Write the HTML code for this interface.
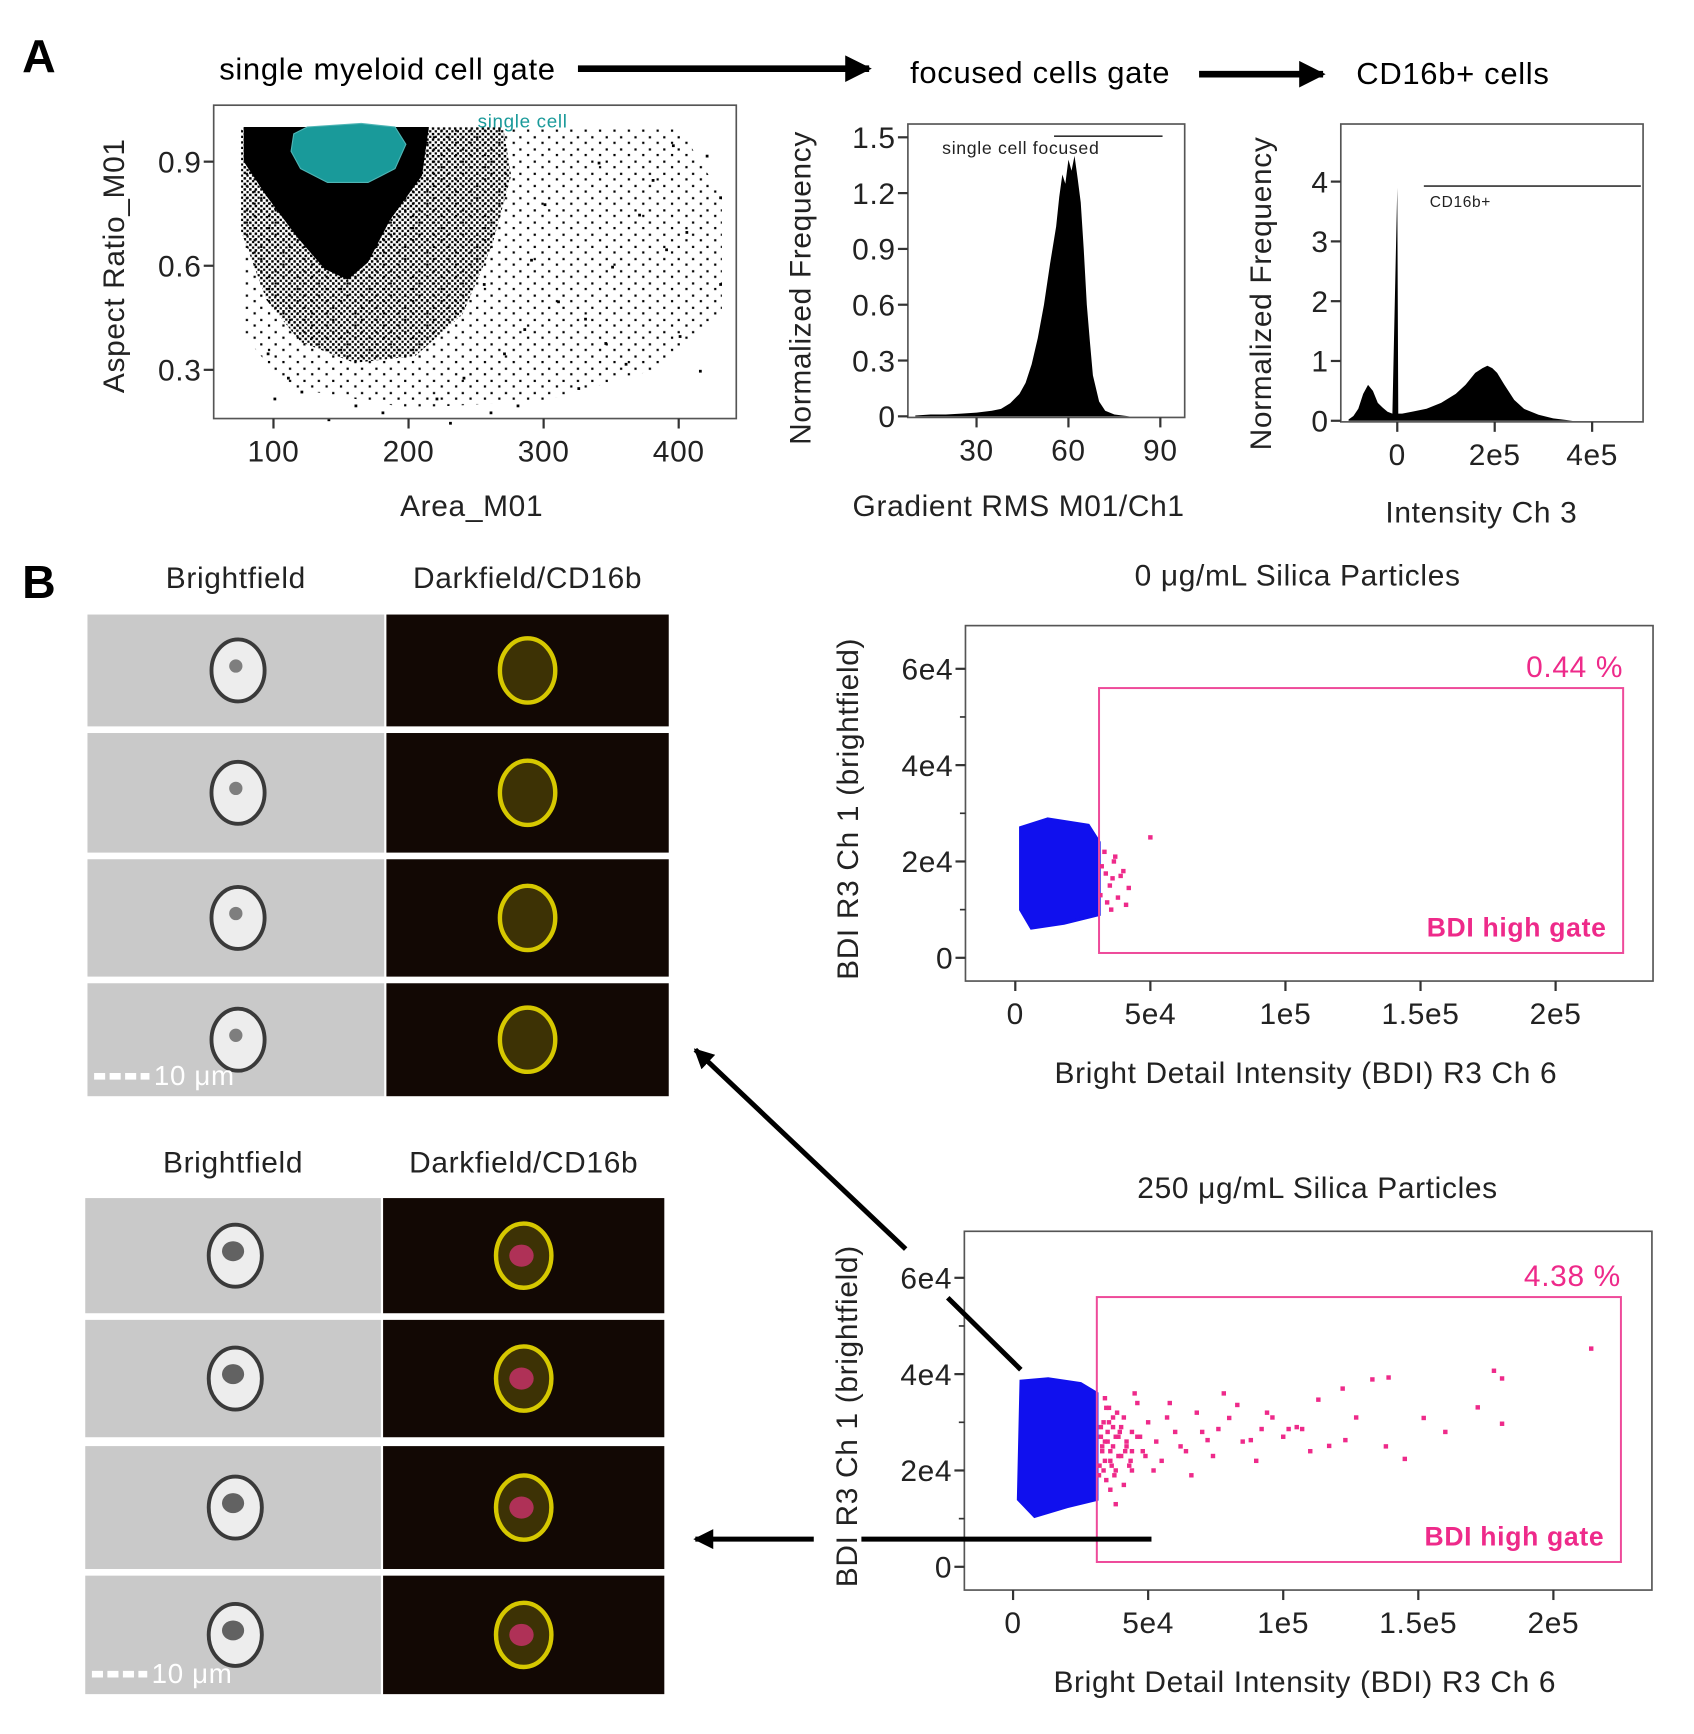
<!DOCTYPE html>
<html><head><meta charset="utf-8"><style>
html,body{margin:0;padding:0;background:#fff;}
svg{display:block;font-family:"Liberation Sans",Arial,sans-serif;}
svg text{letter-spacing:0.6px;}
</style></head><body>
<svg id="fig" width="1694" height="1734" viewBox="0 0 1530 1566" preserveAspectRatio="none" xmlns="http://www.w3.org/2000/svg">
<defs>
<marker id="ah" viewBox="0 0 10 10" refX="9" refY="5" markerWidth="4" markerHeight="4" orient="auto"><path d="M0,0 L10,5 L0,10 z" fill="#000"/></marker>
<pattern id="dotsSparse" width="13" height="11" patternUnits="userSpaceOnUse"><rect x="1" y="2" width="2" height="2" fill="#000"/><rect x="8" y="7" width="2" height="2" fill="#000"/></pattern>
<pattern id="dotsDense" width="5" height="5" patternUnits="userSpaceOnUse"><rect x="0" y="0" width="2.2" height="2.2" fill="#000"/><rect x="2.6" y="2.6" width="2" height="2" fill="#000"/></pattern>
</defs>
<text x="20" y="65" font-size="42" font-weight="bold">A</text>
<text x="20" y="540" font-size="42" font-weight="bold">B</text>
<text x="198" y="72" font-size="28">single myeloid cell gate</text>
<line x1="522" y1="62" x2="785" y2="62" stroke="#000" stroke-width="6" marker-end="url(#ah)"/>
<text x="822" y="75" font-size="28">focused cells gate</text>
<line x1="1083" y1="67" x2="1195" y2="67" stroke="#000" stroke-width="6" marker-end="url(#ah)"/>
<text x="1225" y="76" font-size="28">CD16b+ cells</text>
<g id="charts"></g>
<g id="imgs"></g>
<line x1="922" y1="1237" x2="856" y2="1172" stroke="#000" stroke-width="4.5"/>
<line x1="818" y1="1128" x2="628" y2="948" stroke="#000" stroke-width="4.5" marker-end="url(#ah)"/>
<line x1="1040" y1="1390" x2="778" y2="1390" stroke="#000" stroke-width="4.5"/>
<line x1="735" y1="1390" x2="628" y2="1390" stroke="#000" stroke-width="4.5" marker-end="url(#ah)"/>
</svg>
<script>
// ---------- DATA ----------
const aCoreHull=[[78,1.0],[215,1.0],[210,0.86],[186,0.73],[170,0.61],[155,0.56],[138,0.59],[118,0.68],[95,0.8],[78,0.9]];
const aMidHull=[[76,1.0],[270,1.0],[276,0.86],[262,0.66],[240,0.46],[205,0.34],[160,0.32],[120,0.38],[95,0.5],[76,0.7]];
const aOuterHull=[[76,1.0],[400,1.0],[432,0.8],[432,0.46],[382,0.3],[300,0.21],[200,0.19],[110,0.25],[78,0.4]];
const aSparseX=[420,405,380,350,330,300,280,270,400,430,415,390,360,340,310,290,260,240,230,220,180,160,140,120,110,100,95,430,370,325,285,255,395,345];
const aSparseY=[0.92,0.7,0.85,0.6,0.45,0.78,0.2,0.35,0.4,0.55,0.3,0.65,0.32,0.9,0.5,0.62,0.18,0.28,0.15,0.22,0.18,0.2,0.16,0.24,0.28,0.22,0.35,0.8,0.75,0.25,0.42,0.55,0.95,0.38];
const gateSingleCell=[[115,0.98],[125,1.0],[165,1.01],[190,1.0],[198,0.95],[190,0.88],[170,0.84],[140,0.84],[120,0.88],[113,0.93]];
const h1Bins=[10,15,20,25,30,35,38,41,44,46,48,50,52,54,56,57,58,59,60,61,62,63,64,65,66,67,68,70,72,75,80];
const h1Vals=[0.005,0.01,0.01,0.015,0.02,0.03,0.04,0.07,0.12,0.18,0.28,0.42,0.6,0.82,1.02,1.18,1.3,1.25,1.38,1.32,1.4,1.28,1.15,0.9,0.6,0.4,0.22,0.08,0.03,0.01,0];
const h2Bins=[-1.0,-0.9,-0.8,-0.7,-0.6,-0.5,-0.4,-0.3,-0.2,-0.1,0,0.02,0.1,0.3,0.6,0.9,1.2,1.4,1.6,1.75,1.85,1.95,2.05,2.2,2.4,2.6,2.9,3.2,3.6];
const h2Vals=[0.02,0.08,0.2,0.45,0.6,0.5,0.3,0.22,0.15,0.12,3.9,0.12,0.12,0.15,0.2,0.3,0.45,0.6,0.8,0.88,0.92,0.88,0.8,0.6,0.35,0.2,0.1,0.04,0];
const b1BlueHull=[[2000,27000],[12000,28800],[27000,27500],[31000,24000],[31000,9000],[18000,7200],[6000,6200],[2000,10000]];
const b1PinkX=[32000,33500,35000,36500,38000,40000,42000,34000,36000,41000,50000,33000,37000,39000,31500,35500];
const b1PinkY=[19000,17500,15000,20000,12500,18000,14500,11500,16500,11000,25000,22000,21000,17000,13000,10000];
const b1Gate=[31000,225000,1000,56000];
const b2BlueHull=[[3000,38500],[13000,39000],[25000,38000],[31000,36000],[31000,14000],[20000,12500],[8000,10500],[2000,14000]];
const b2PinkX=[214000,178000,181000,181000,172000,139000,133000,145000,152000,122000,123000,113000,117000,107000,102000,94000,92000,88000,83000,80000,76000,72000,68000,64000,60000,57000,55000,53000,50000,48000,46000,44000,43000,42000,41000,40000,39000,38000,37000,36000,35500,35000,34500,34000,33500,33000,32500,32000,31800,45000,47000,52000,58000,62000,66000,70000,74000,78000,85000,90000,96000,100000,105000,110000,127000,138000,160000,36000,38000,41000,44000,49000,34000,37000,33000,34000,35000,36000,37000,38000,39000,40000,42000,44000,46000,33500,35500,37500,39500,41500,43500,32500,34500,36500,38500];
const b2PinkY=[45300,40700,39100,29700,33100,39300,38900,22400,30900,37000,26300,34700,25100,28600,28600,32000,28600,26300,33600,30900,28600,26300,32000,24000,28000,31000,22000,26000,30000,24000,34000,28000,21000,25000,31000,23000,27000,20000,29000,24000,33000,26000,18000,22000,30000,25000,27000,21000,19000,36000,27000,20000,34000,25000,19000,28000,23000,36000,26000,22000,31000,27000,29000,24000,31000,25000,28000,16000,13000,17000,20000,23000,35000,31000,24000,26000,28000,22000,25000,27000,23000,29000,26000,24000,27000,20000,30000,19000,28000,24000,22000,29000,33000,21000,32000];
const b2Gate=[31000,225000,1000,56000];

// ---------- HELPERS ----------
const NS="http://www.w3.org/2000/svg";
const root=document.getElementById('charts');
function mk(tag,attrs,parent){const e=document.createElementNS(NS,tag);for(const k in attrs)e.setAttribute(k,attrs[k]);(parent||root).appendChild(e);return e;}
function lin(d0,p0,d1,p1){const k=(p1-p0)/(d1-d0);return v=>p0+(v-d0)*k;}
function frame(x0,y0,x1,y1,name){const r=mk('rect',{x:x0,y:y0,width:x1-x0,height:y1-y0,fill:'none',stroke:'#555','stroke-width':1.5});

}
function yTicks(ticks,labels,sy,x0,fs,name,minor){ticks.forEach((t,i)=>{const y=sy(t);
const l=mk('line',{x1:x0-9,y1:y,x2:x0,y2:y,stroke:'#333','stroke-width':2});


const tx=mk('text',{x:x0-11,y:y+fs*0.36,'font-size':fs,'text-anchor':'end',fill:'#222'});tx.textContent=labels[i];

});
(minor||[]).forEach(t=>{const y=sy(t);const l=mk('line',{x1:x0-5,y1:y,x2:x0,y2:y,stroke:'#333','stroke-width':1.5});

});}
function xTicks(ticks,labels,sx,y0,fs,name){ticks.forEach((t,i)=>{const x=sx(t);
const l=mk('line',{x1:x,y1:y0,x2:x,y2:y0+9,stroke:'#333','stroke-width':2});


const tx=mk('text',{x:x,y:y0+fs+12,'font-size':fs,'text-anchor':'middle',fill:'#222'});tx.textContent=labels[i];

});}
function label(x,y,txt,fs,name,rot,extra){const a={x:x,y:y,'font-size':fs,'text-anchor':'middle',fill:'#222'};if(rot)a.transform='rotate(-90 '+x+' '+y+')';Object.assign(a,extra||{});const t=mk('text',a);t.textContent=txt;

return t;}
function poly(pts,sx,sy,attrs,name){const p=mk('polygon',Object.assign({points:pts.map(q=>sx(q[0]).toFixed(1)+','+sy(q[1]).toFixed(1)).join(' ')},attrs));

}
function hist(bins,vals,sx,sy,name){let d='M'+sx(bins[0])+','+sy(0);bins.forEach((b,i)=>{d+=' L'+sx(b).toFixed(1)+','+sy(vals[i]).toFixed(1);});d+=' L'+sx(bins[bins.length-1])+','+sy(0)+' Z';
const p=mk('path',{d:d,fill:'#000'});

}
const FS=27, TFS=27;

// ---------- SCATTER A ----------
{const sx=lin(100,247,400,613),sy=lin(0.3,334,0.9,146);
poly(aOuterHull,sx,sy,{fill:'url(#dotsSparse)'},'density-outer');
poly(aMidHull,sx,sy,{fill:'url(#dotsDense)'},'density-mid');
poly(aCoreHull,sx,sy,{fill:'#000'},'density-core');
aSparseX.forEach((v,i)=>{const c=mk('rect',{x:sx(v),y:sy(aSparseY[i]),width:2.5,height:2.5,fill:'#000'});

});
poly(gateSingleCell,sx,sy,{fill:'#199a9a',stroke:'#4fb5b5','stroke-width':1},'single-cell-gate');
label(472,115,'single cell',17,'gate-label-single-cell',false,{fill:'#1a9a9a'});
frame(193,95,665,378,'scatter-a-frame');
yTicks([0.3,0.6,0.9],['0.3','0.6','0.9'],sy,193,FS,'y-axis-a');
xTicks([100,200,300,400],['100','200','300','400'],sx,378,FS,'x-axis-a');
label(426,466,'Area_M01',TFS,'x-axis-title-a');
label(112,240,'Aspect Ratio_M01',TFS,'y-axis-title-a',true);}

// ---------- HIST 1 ----------
{const sx=lin(30,882,60,965),sy=lin(0,376,1.5,124);
hist(h1Bins,h1Vals,sx,sy,'histogram-gradient');
const g=mk('line',{x1:952,y1:123,x2:1050,y2:123,stroke:'#333','stroke-width':1.5});


label(922,139,'single cell focused',16,'gate-label-focused');
frame(820,112,1070,377,'hist-1-frame');
yTicks([0,0.3,0.6,0.9,1.2,1.5],['0','0.3','0.6','0.9','1.2','1.5'],sy,820,FS,'y-axis-h1');
xTicks([30,60,90],['30','60','90'],sx,377,FS,'x-axis-h1');
label(920,466,'Gradient RMS M01/Ch1',TFS,'x-axis-title-h1');
label(732,260,'Normalized Frequency',TFS,'y-axis-title-h1',true);}

// ---------- HIST 2 ----------
{const sx=lin(0,1262,2,1350),sy=lin(0,380,4,164);
hist(h2Bins,h2Vals,sx,sy,'histogram-intensity');
const g=mk('line',{x1:1286,y1:168,x2:1482,y2:168,stroke:'#333','stroke-width':1.5});


label(1319,187,'CD16b+',14,'gate-label-cd16b');
frame(1211,112,1484,381,'hist-2-frame');
yTicks([0,1,2,3,4],['0','1','2','3','4'],sy,1211,FS,'y-axis-h2');
xTicks([0,2,4],['0','2e5','4e5'],sx,381,FS,'x-axis-h2');
label(1338,472,'Intensity Ch 3',TFS,'x-axis-title-h2');
label(1148,265,'Normalized Frequency',TFS,'y-axis-title-h2',true);}

// ---------- SCATTER B ----------
function bdi(cfg){const sx=lin(0,cfg.x0,50000,cfg.x5),sy=lin(0,cfg.y0,20000,cfg.y2);
label(cfg.tx,cfg.ty,cfg.title,TFS,cfg.n+'-title');
poly(cfg.hull,sx,sy,{fill:'#1010ee',stroke:'#1010ee','stroke-width':3},cfg.n+'-blue-population');
cfg.px.forEach((v,i)=>{const c=mk('rect',{x:sx(v)-2,y:sy(cfg.py[i])-2,width:4,height:4,fill:'#ee2a8a'});

});
const gt=cfg.gate;const r=mk('rect',{x:sx(gt[0]),y:sy(gt[3]),width:sx(gt[1])-sx(gt[0]),height:sy(gt[2])-sy(gt[3]),fill:'none',stroke:'#ee4a9a','stroke-width':1.8});


label(sx(gt[1]),sy(gt[3])-10,cfg.pct,27,cfg.n+'-gate-percent',false,{'text-anchor':'end',fill:'#ee2a8a'});
label(sx(gt[1])-15,sy(gt[2])-15,'BDI high gate',24,cfg.n+'-gate-label',false,{'text-anchor':'end',fill:'#ee2a8a','font-weight':'bold'});
frame(cfg.fx0,cfg.fy0,cfg.fx1,cfg.fy1,cfg.n+'-frame');
yTicks([0,20000,40000,60000],['0','2e4','4e4','6e4'],sy,cfg.fx0,FS,cfg.n+'-y-axis',[10000,30000,50000]);
xTicks([0,50000,100000,150000,200000],['0','5e4','1e5','1.5e5','2e5'],sx,cfg.fy1,FS,cfg.n+'-x-axis');
label((cfg.fx0+cfg.fx1)/2-3,cfg.fy1+92,'Bright Detail Intensity (BDI) R3 Ch 6',TFS,cfg.n+'-x-axis-title');
label(cfg.fx0-97,(cfg.fy0+cfg.fy1)/2+5,'BDI R3 Ch 1 (brightfield)',TFS,cfg.n+'-y-axis-title',true);}
bdi({n:'bdi-0',title:'0 μg/mL Silica Particles',tx:1172,ty:529,x0:917,x5:1039,y0:865,y2:778,hull:b1BlueHull,px:b1PinkX,py:b1PinkY,gate:b1Gate,pct:'0.44 %',fx0:872,fy0:565,fx1:1493,fy1:886});
bdi({n:'bdi-250',title:'250 μg/mL Silica Particles',tx:1190,ty:1082,x0:915,x5:1037,y0:1415,y2:1328,hull:b2BlueHull,px:b2PinkX,py:b2PinkY,gate:b2Gate,pct:'4.38 %',fx0:871,fy0:1112,fx1:1492,fy1:1436});

// ---------- CELL IMAGES ----------
const imgs=document.getElementById('imgs');
function cellBlock(bx0,bx1,dx1,rows,ty,n,pinkRows){
const t1=mk('text',{x:(bx0+bx1)/2,y:ty,'font-size':TFS,'text-anchor':'middle',fill:'#222'},imgs);t1.textContent='Brightfield';


const t2=mk('text',{x:(bx1+2+dx1)/2,y:ty,'font-size':TFS,'text-anchor':'middle',fill:'#222'},imgs);t2.textContent='Darkfield/CD16b';


rows.forEach((r,i)=>{const cy=(r[0]+r[1])/2;
const b=mk('rect',{x:bx0,y:r[0],width:bx1-bx0,height:r[1]-r[0],fill:'#c9c9c9'},imgs);


const c=mk('ellipse',{cx:(bx0+bx1)/2+2,cy:cy,rx:24,ry:28,fill:'#ededed',stroke:'#3a3a3a','stroke-width':3.5},imgs);


const dk=mk('ellipse',{cx:(bx0+bx1)/2,cy:cy-4,rx:pinkRows?10:6,ry:pinkRows?9:6,fill:'#333','fill-opacity':pinkRows?0.75:0.6},imgs);


const d=mk('rect',{x:bx1+2,y:r[0],width:dx1-bx1-2,height:r[1]-r[0],fill:'#120804'},imgs);


const dc=mk('ellipse',{cx:(bx1+2+dx1)/2,cy:cy,rx:25,ry:29,fill:'#3d3205',stroke:'#d6c800','stroke-width':4},imgs);


if(pinkRows){const p=mk('ellipse',{cx:(bx1+2+dx1)/2-2,cy:cy,rx:11,ry:10,fill:'#e0307a','fill-opacity':0.7},imgs);

}});
const last=rows[rows.length-1];
const sb=mk('line',{x1:bx0+6,y1:last[1]-18,x2:bx0+56,y2:last[1]-18,stroke:'#fff','stroke-width':6,'stroke-dasharray':'10 4'},imgs);


const st=mk('text',{x:bx0+60,y:last[1]-10,'font-size':25,fill:'#fff'},imgs);st.textContent='10 μm';

}
cellBlock(79,347,604,[[555,656],[662,770],[776,882],[888,990]],531,'control',false);
cellBlock(77,344,600,[[1082,1186],[1192,1298],[1306,1417],[1423,1530]],1059,'silica',true);
</script>
</body></html>
